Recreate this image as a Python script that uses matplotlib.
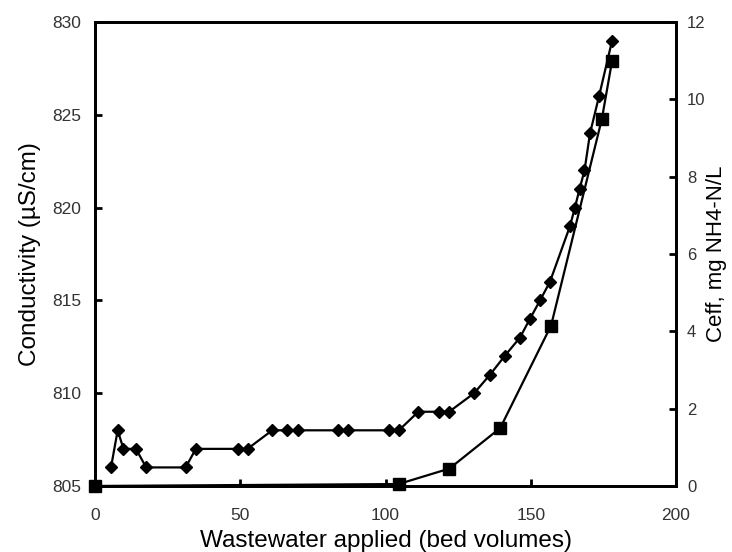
import matplotlib
matplotlib.use("Agg")
import matplotlib.pyplot as plt

plt.rcParams['font.family'] = ['Liberation Sans', 'DejaVu Sans']

# conductivity (left axis)
bv_cond = [5.5, 7.8, 9.8, 14.1, 17.6, 31.2, 34.7, 49.1, 52.5, 61.0, 66.2, 69.9,
           83.5, 87.0, 101.2, 104.6, 111.3, 118.4, 121.9, 130.5, 136.0, 141.0,
           146.3, 149.7, 153.2, 156.6, 163.5, 165.2, 166.8, 168.5, 170.4, 173.5, 178.0]
conductivity = [806, 808, 807, 807, 806, 806, 807, 807, 807, 808, 808, 808,
                808, 808, 808, 808, 809, 809, 809, 810, 811, 812,
                813, 814, 815, 816, 819, 820, 821, 822, 824, 826, 829]

# effluent ammonium (right axis)
bv_ceff = [0, 104.5, 122.0, 139.5, 157.0, 174.5, 178.0]
ceff = [0, 0.05, 0.45, 1.5, 4.15, 9.5, 11.0]

fig = plt.figure(figsize=(7.32, 5.52), dpi=100)
ax = fig.add_axes([0.1298, 0.1196, 0.7937, 0.8405])
ax2 = ax.twinx()

ax.plot(bv_cond, conductivity, color='black', lw=1.6, marker='D', ms=6.5,
        clip_on=False, zorder=3)
ax2.plot(bv_ceff, ceff, color='black', lw=1.6, marker='s', ms=8.5,
         clip_on=False, zorder=3)

ax.set_xlim(0, 200)
ax.set_ylim(805, 830)
ax2.set_ylim(0, 12)
ax.set_xticks([0, 50, 100, 150, 200])
ax.set_yticks([805, 810, 815, 820, 825, 830])
ax2.set_yticks([0, 2, 4, 6, 8, 10, 12])

for a in (ax, ax2):
    for s in a.spines.values():
        s.set_linewidth(2)
    a.tick_params(direction='in', length=5, width=2, labelsize=12.5,
                  labelcolor='#333333', pad=10)
ax.tick_params(axis='y', right=False)
ax.tick_params(axis='x', top=False, pad=16)
ax2.tick_params(axis='y', pad=8, labelsize=12)

ax.set_xlabel('Wastewater applied (bed volumes)', fontsize=17.5, labelpad=5)
ax.set_ylabel('Conductivity (µS/cm)', fontsize=17.5, labelpad=8)
ax2.set_ylabel('Ceff, mg NH4-N/L', fontsize=16, labelpad=0)

fig.savefig('out.png', dpi=100)
